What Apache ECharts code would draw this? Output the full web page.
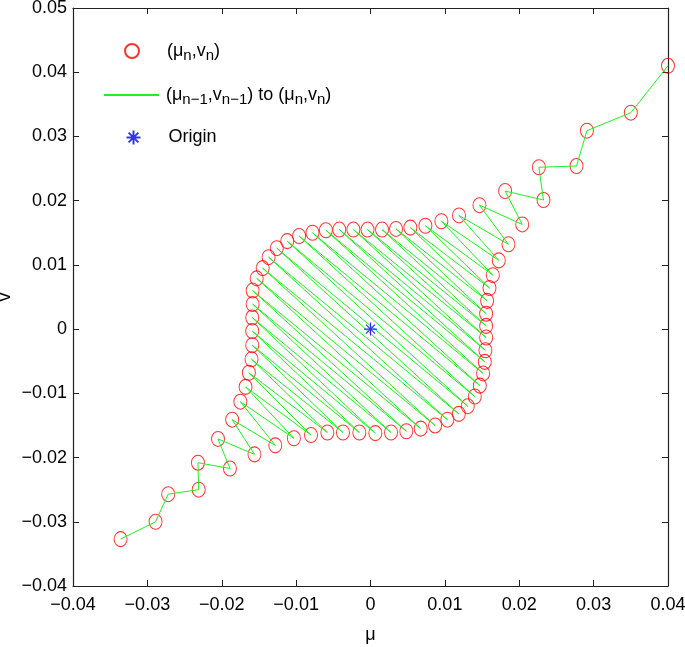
<!DOCTYPE html>
<html>
<head>
<meta charset="utf-8">
<script src="https://cdn.jsdelivr.net/npm/echarts@6/dist/echarts.min.js"></script>
<style>
  html, body { margin: 0; padding: 0; background: #fff; }
  #main { width: 685px; height: 647px; }
</style>
</head>
<body>
<div id="main"></div>
<script>
// iterates (mu_n, v_n), in path order
var muValues = [
  -0.0336, -0.0289, -0.0272, -0.0231, -0.0232, -0.0189, -0.0205, -0.0156, -0.0186, -0.0128,
  -0.0175, -0.0103, -0.0168, -0.0080, -0.01635, -0.0058, -0.0160, -0.0037, -0.0159, -0.0015,
  -0.0159, 0.00065, -0.0159, 0.00276, -0.01585, 0.00482, -0.01585, 0.00675, -0.0153, 0.00868,
  -0.0145, 0.01034, -0.0137, 0.01187, -0.0126, 0.01308, -0.0112, 0.01402, -0.0096, 0.0147,
  -0.0078, 0.01514, -0.0060, 0.01537, -0.0042, 0.01545, -0.0023, 0.01555, -0.0004, 0.01555,
  0.00155, 0.01555, 0.00343, 0.01568, 0.00536, 0.0160, 0.00738, 0.01645, 0.00953, 0.01725,
  0.0119, 0.01855, 0.01465, 0.0204, 0.0181, 0.02326, 0.02264, 0.0277, 0.0291, 0.0350, 0.0400
];
var vValues = [
  -0.0327, -0.0300, -0.0257, -0.0250, -0.0208, -0.0217, -0.0171, -0.0195, -0.0141, -0.0181,
  -0.0113, -0.0170, -0.0090, -0.0165, -0.0068, -0.0161, -0.0047, -0.0161, -0.0025, -0.0161,
  -0.0003, -0.0162, 0.0018, -0.0161, 0.0039, -0.0159, 0.0060, -0.0155, 0.0079, -0.0150,
  0.0095, -0.0141, 0.0112, -0.0132, 0.0126, -0.0120, 0.0137, -0.0105, 0.0145, -0.0088,
  0.0150, -0.0069, 0.0154, -0.0051, 0.0155, -0.0033, 0.0155, -0.0013, 0.0155, 0.0005,
  0.0155, 0.0024, 0.0156, 0.0044, 0.0158, 0.0064, 0.0161, 0.0084, 0.0168, 0.0107,
  0.0177, 0.0132, 0.0193, 0.0163, 0.0215, 0.0201, 0.0252, 0.0254, 0.0309, 0.0337, 0.0410
];
var originPoint = [0, 0];

var xTicks = { min: -0.04, max: 0.04, step: 0.01 };
var yTicks = { min: -0.04, max: 0.05, step: 0.01 };

var points = muValues.map(function (m, i) { return [m, vValues[i]]; });

var FONT = '"Liberation Sans", Arial, sans-serif';
var axisColor = '#222';

function tickFmt(v) {
  var r = Number(v.toFixed(3));
  if (r === 0) return '0';
  return (r < 0 ? '\u2212' : '') + Math.abs(r).toFixed(2);
}

var subRich = {
  s: { fontSize: 15, fontFamily: FONT, color: '#000', padding: [10, 0, 0, 0] }
};

var asterisk = 'path://M5 0L5 10M0 5L10 5M1.5 1.5L8.5 8.5M1.5 8.5L8.5 1.5';

// one legend box per entry, so each row can sit where the reference has it
function legendBox(name, left, top, width, textPad, fmt) {
  var box = {
    data: [name],
    orient: 'vertical',
    left: left,
    top: top,
    padding: 0,
    itemWidth: width,
    itemHeight: 14,
    selectedMode: false,
    formatter: function () { return fmt; },
    textStyle: { fontSize: 18, fontFamily: FONT, color: '#000', rich: subRich, padding: [0, 0, 0, textPad] }
  };
  if (name === 'steps') box.itemStyle = { opacity: 0 };
  return box;
}

var chart = echarts.init(document.getElementById('main'));
chart.setOption({
  backgroundColor: '#fff',
  animation: false,
  grid: { left: 73, right: 17, top: 8, bottom: 61, outerBoundsMode: 'none', containLabel: false },
  legend: [
    legendBox('points', 124, 42, 14, 23, '(\u03bc{s|n},v{s|n})'),
    legendBox('steps', 103, 86, 55, 2, '(\u03bc{s|n\u22121},v{s|n\u22121}) to (\u03bc{s|n},v{s|n})'),
    legendBox('Origin', 124, 128, 14, 23, 'Origin')
  ],
  xAxis: [{
    type: 'value',
    min: xTicks.min, max: xTicks.max, interval: xTicks.step,
    name: '\u03bc', nameLocation: 'middle', nameGap: 40,
    nameTextStyle: { fontSize: 18, fontFamily: FONT, color: '#000' },
    axisLine: { onZero: false, lineStyle: { color: axisColor, width: 1.2 } },
    axisTick: { inside: true, length: 6, lineStyle: { color: axisColor } },
    axisLabel: { fontSize: 18, fontFamily: FONT, color: '#000', margin: 10, formatter: tickFmt, hideOverlap: false },
    splitLine: { show: false }
  }, {
    type: 'value', position: 'top',
    min: xTicks.min, max: xTicks.max, interval: xTicks.step,
    axisLine: { onZero: false, lineStyle: { color: axisColor, width: 1.2 } },
    axisTick: { inside: true, length: 6, lineStyle: { color: axisColor } },
    axisLabel: { show: false },
    splitLine: { show: false }
  }],
  yAxis: [{
    type: 'value',
    min: yTicks.min, max: yTicks.max, interval: yTicks.step,
    name: 'v', nameLocation: 'middle', nameGap: 59, nameRotate: 90, nameMoveOverlap: false,
    nameTextStyle: { fontSize: 18, fontFamily: FONT, color: '#000' },
    axisLine: { onZero: false, lineStyle: { color: axisColor, width: 1.2 } },
    axisTick: { inside: true, length: 6, lineStyle: { color: axisColor } },
    axisLabel: { fontSize: 18, fontFamily: FONT, color: '#000', margin: 6, formatter: tickFmt },
    splitLine: { show: false }
  }, {
    type: 'value', position: 'right',
    min: yTicks.min, max: yTicks.max, interval: yTicks.step,
    axisLine: { onZero: false, lineStyle: { color: axisColor, width: 1.2 } },
    axisTick: { inside: true, length: 6, lineStyle: { color: axisColor } },
    axisLabel: { show: false },
    splitLine: { show: false }
  }],
  series: [
    {
      name: 'points',
      type: 'scatter',
      data: points,
      symbol: 'circle',
      symbolSize: [13, 15],
      itemStyle: { color: 'rgba(0,0,0,0)', borderColor: '#ff0000', borderWidth: 1 },
      z: 2
    },
    {
      name: 'steps',
      type: 'line',
      data: points,
      symbol: 'none',
      showSymbol: false,
      lineStyle: { color: '#22ee22', width: 1 },
      itemStyle: { color: '#22ee22' },
      z: 3
    },
    {
      name: 'Origin',
      type: 'scatter',
      data: [originPoint],
      symbol: asterisk,
      symbolSize: 13,
      itemStyle: { color: 'none', borderColor: '#0000ff', borderWidth: 1.2 },
      z: 4
    }
  ]
});
</script>
</body>
</html>
